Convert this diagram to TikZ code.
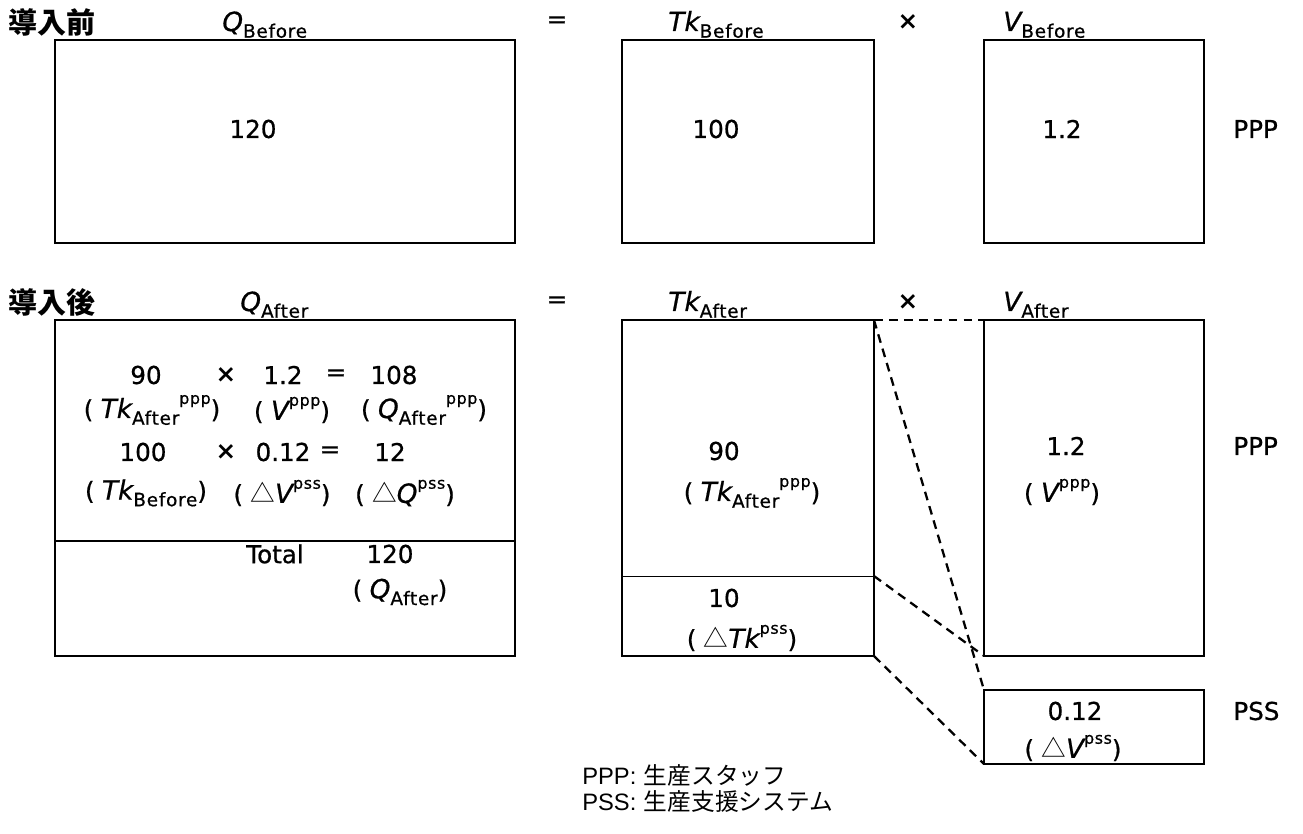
\documentclass[tikz,border=0pt]{standalone}
\usepackage{fontspec}
\setmainfont{DejaVu Sans}[UprightFeatures={FakeBold=0.7}, ItalicFeatures={FakeBold=0.7}]
\newfontfamily\cjk{Noto Sans CJK JP}
\newfontfamily\lsans{Liberation Sans}
\usetikzlibrary{positioning}
\newcommand{\valfont}{\fontsize{14}{16}\selectfont}
\newcommand{\ivar}[1]{{\fontsize{15}{17}\selectfont\itshape #1}}
\newcommand{\lowsub}[1]{\raisebox{-0.5ex}{\fontsize{10.5}{12}\selectfont\addfontfeature{LetterSpace=4}#1}}
\newcommand{\upsup}[1]{\raisebox{1.05ex}{\fontsize{9}{10}\selectfont\addfontfeature{LetterSpace=4}#1}}
\newcommand{\lp}{(\hspace{0.3em}}
\newcommand{\rp}{)}
\newcommand{\tri}{{\cjk\fontsize{14}{16}\selectfont △}}
\newcommand{\mul}{{\bfseries ×}}
\tikzset{
  frame/.style={draw, line width=1.2pt, inner sep=0pt, outer sep=0pt, anchor=north west},
  link/.style={line width=1.3pt, dash pattern=on 5pt off 3.5pt},
  val/.style={font=\valfont, inner sep=0pt},
  head/.style={font=\cjk\fontsize{16.5}{18}\selectfont\bfseries, inner sep=0pt, anchor=west},
  var/.style={font=\valfont, inner sep=0pt, anchor=base west},
  tag/.style={font=\valfont, inner sep=0pt, anchor=west},
  legend/.style={font=\fontsize{13.5}{15}\selectfont, inner sep=0pt, anchor=west}
}
\begin{document}
\begin{tikzpicture}[x=0.02cm, y=-0.02cm]
  \useasboundingbox[fill=white] (0,0) rectangle (1303,834);
  % before
  \node[head] (hbefore) at (8,22) {導入前};
  \node[var] (qbhead) at (222,31) {\ivar{Q}\lowsub{Before}};
  \node[val] (eqb) at (557,22) {=};
  \node[var] (tkbhead) at (668,31) {\ivar{Tk}\lowsub{Before}};
  \node[val] (timesb) at (908,22) {\mul};
  \node[var] (vbhead) at (1003,31) {\ivar{V}\lowsub{Before}};
  \node[frame, minimum width=9.2cm, minimum height=4.06cm] (qb) at (55,40) {};
  \node[frame, minimum width=5.04cm, minimum height=4.06cm] (tkb) at (622,40) {};
  \node[frame, minimum width=4.4cm, minimum height=4.06cm] (vb) at (984,40) {};
  \node[val] (qbval) at (253,129) {120};
  \node[val] (tkbval) at (716,129) {100};
  \node[val] (vbval) at (1062,129) {1.2};
  \node[tag] (pppb) at (1233,129) {PPP};
  % after
  \node[head] (hafter) at (8,302) {導入後};
  \node[var] (qahead) at (240,311) {\ivar{Q}\lowsub{After}};
  \node[val] (eqa) at (557,302) {=};
  \node[var] (tkahead) at (668,311) {\ivar{Tk}\lowsub{After}};
  \node[val] (timesa) at (908,302) {\mul};
  \node[var] (vahead) at (1003,311) {\ivar{V}\lowsub{After}};
  \node[frame, minimum width=9.2cm, minimum height=6.72cm] (qa) at (55,320) {};
  \node[frame, minimum width=5.04cm, minimum height=6.72cm] (tka) at (622,320) {};
  \node[frame, minimum width=4.4cm, minimum height=6.72cm] (va) at (984,320) {};
  \node[frame, minimum width=4.4cm, minimum height=1.48cm] (pss) at (984,690) {};
  \path (qa.north west) ++(0,221) coordinate (qcutl);
  \path (qa.north east) ++(0,221) coordinate (qcutr);
  \path (tka.north west) ++(0,256) coordinate (tkcutl);
  \path (tka.north east) ++(0,256) coordinate (tkcut);
  \draw[line width=1.2pt] (qcutl) -- (qcutr);
  \draw[line width=0.4pt] (tkcutl) -- (tkcut);
  % split of Q after
  \node[val] (r1a) at (146,375) {90};
  \node[val] (r1b) at (226,375) {\mul};
  \node[val] (r1c) at (283,375) {1.2};
  \node[val] (r1d) at (336,375) {=};
  \node[val] (r1e) at (394,375) {108};
  \node[val] (r2a) at (152,410) {\lp\ivar{Tk}\lowsub{After}\upsup{ppp}\rp};
  \node[val] (r2b) at (292,410) {\lp\ivar{V}\upsup{ppp}\rp};
  \node[val] (r2c) at (424,410) {\lp\ivar{Q}\lowsub{After}\upsup{ppp}\rp};
  \node[val] (r3a) at (143,452) {100};
  \node[val] (r3b) at (226,452) {\mul};
  \node[val] (r3c) at (283,452) {0.12};
  \node[val] (r3d) at (330,452) {=};
  \node[val] (r3e) at (390,452) {12};
  \node[val] (r4a) at (146,493) {\lp\ivar{Tk}\lowsub{Before}\rp};
  \node[val] (r4b) at (282,493) {\lp\tri\ivar{V}\upsup{pss}\rp};
  \node[val] (r4c) at (405,493) {\lp\tri\ivar{Q}\upsup{pss}\rp};
  \node[val] (total) at (275,554) {Total};
  \node[val] (qaval) at (390,554) {120};
  \node[val] (qaname) at (400,592) {\lp\ivar{Q}\lowsub{After}\rp};
  % Tk after and V after
  \node[val] (tkppp) at (724,451) {90};
  \node[val] (tkpppname) at (752,493) {\lp\ivar{Tk}\lowsub{After}\upsup{ppp}\rp};
  \node[val] (tkpss) at (724,598) {10};
  \node[val] (tkpssname) at (742,638) {\lp\tri\ivar{Tk}\upsup{pss}\rp};
  \node[val] (vppp) at (1066,446) {1.2};
  \node[val] (vpppname) at (1062,492) {\lp\ivar{V}\upsup{ppp}\rp};
  \node[tag] (pppa) at (1233,446) {PPP};
  \node[val] (vpss) at (1075,711) {0.12};
  \node[val] (vpssname) at (1073,748) {\lp\tri\ivar{V}\upsup{pss}\rp};
  \node[tag] (pssa) at (1233,711) {PSS};
  % dashed links
  \draw[link] (tka.north east) -- (va.north west);
  \draw[link] (tka.north east) -- (pss.north west);
  \draw[link] (tkcut) -- (va.south west);
  \draw[link] (tka.south east) -- (pss.south west);
  % legend
  \node[legend] (legppp) at (582,775) {{\lsans PPP:} {\cjk 生産スタッフ}};
  \node[legend] (legpss) at (582,802) {{\lsans PSS:} {\cjk 生産支援システム}};
\end{tikzpicture}
\end{document}
